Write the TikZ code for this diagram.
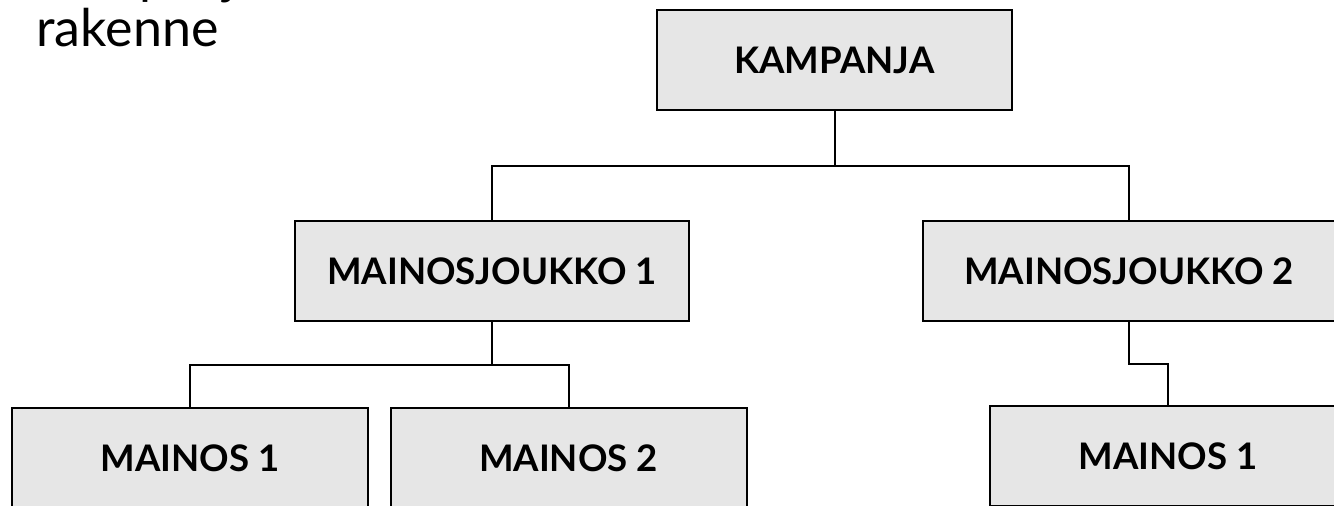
\documentclass[tikz,border=0pt]{standalone}
\usepackage{fontspec}
\setmainfont{Lato}
\definecolor{boxgray}{HTML}{E6E6E6}
\tikzset{
  block/.style  = {shape=rectangle, draw, line width=1pt, fill=boxgray,
                   align=center, inner sep=0pt, minimum height=50pt,
                   font=\fontsize{18.3}{21}\selectfont\bfseries},
  top/.style    = {block, minimum width=177.5pt},
  group/.style  = {block, minimum width=197pt},
  ad/.style     = {block, minimum width=178pt},
  title/.style  = {align=left, inner sep=0pt,
                   font=\fontsize{26}{26.7}\selectfont},
  link/.style   = {draw, line width=1pt}
}
\begin{document}
\begin{tikzpicture}[x=0.5pt, y=-0.5pt]
  \useasboundingbox (0,0) rectangle (1334,506);

  \node[title, anchor=base west] (otsikko) at (36,47) {Kampanjan\\rakenne};

  \node[top] (kampanja) at (834.5,60) {KAMPANJA};
  \node[group] (joukko1) at (492,271) {MAINOSJOUKKO 1};
  \node[group, minimum width=206pt] (joukko2) at (1129,271) {MAINOSJOUKKO 2};
  \node[ad] (mainos11) at (190,458) {MAINOS 1};
  \node[ad] (mainos12) at (568.5,458) {MAINOS 2};
  \node[ad] (mainos21) at (1168,456) {MAINOS 1};

  % kampanja -> mainosjoukot
  \path[link] (kampanja.south) -- ++(0,55) -| (joukko1.north);
  \path[link] (kampanja.south) -- ++(0,55) -| (joukko2.north);
  % mainosjoukot -> mainokset
  \path[link] (joukko1.south) -- ++(0,43) -| (mainos11.north);
  \path[link] (joukko1.south) -- ++(0,43) -| (mainos12.north);
  \path[link] (joukko2.south) -- ++(0,42) -| (mainos21.north);
\end{tikzpicture}
\end{document}
